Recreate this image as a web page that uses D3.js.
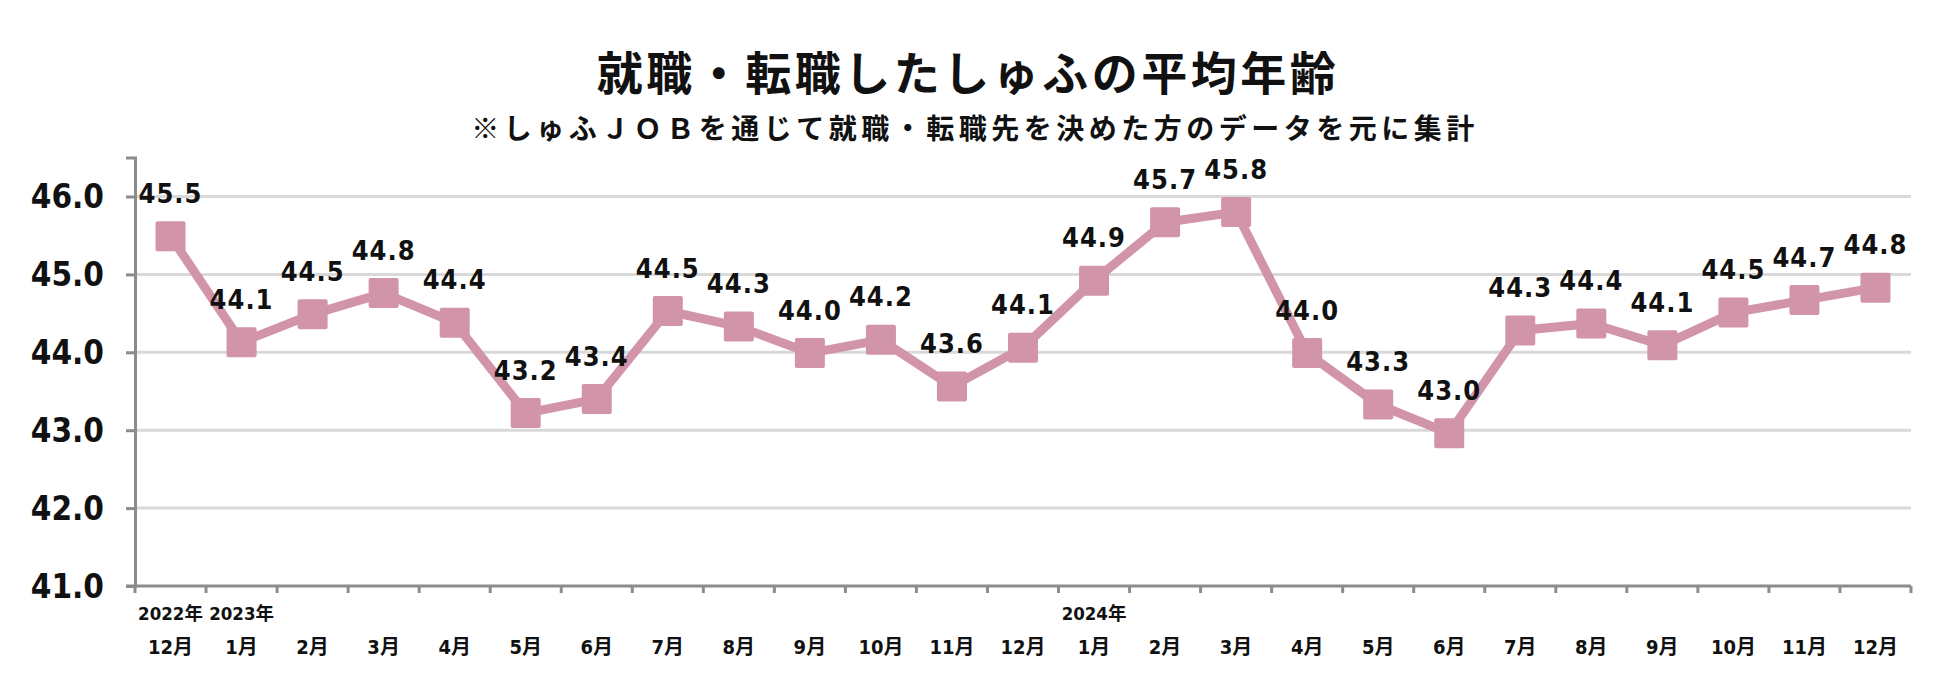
<!DOCTYPE html>
<html><head><meta charset="utf-8">
<script src="https://cdn.jsdelivr.net/npm/d3@7"></script>
<style>
html,body{margin:0;padding:0;background:#fff;}
svg{display:block;}
.num{font-family:"DejaVu Sans Condensed","DejaVu Sans","Noto Sans CJK JP",sans-serif;font-stretch:condensed;font-weight:bold;}
.jp{font-family:"Noto Sans CJK JP",sans-serif;font-weight:bold;}
</style></head>
<body>
<svg id="chart" width="1950" height="692"></svg>
<script>
const title = "就職・転職したしゅふの平均年齢";
const subtitle = "※しゅふＪＯＢを通じて就職・転職先を決めた方のデータを元に集計";
const months = ["12月","1月","2月","3月","4月","5月","6月","7月","8月","9月","10月","11月","12月",
                "1月","2月","3月","4月","5月","6月","7月","8月","9月","10月","11月","12月"];
const years = ["2022年","2023年","","","","","","","","","","","","2024年","","","","","","","","","","",""];
const avgAge = [45.49,44.13,44.49,44.76,44.38,43.22,43.40,44.53,44.33,43.99,44.16,43.56,44.06,
                44.92,45.67,45.80,43.99,43.33,42.96,44.28,44.37,44.09,44.51,44.67,44.83];
const yTicks = [41,42,43,44,45,46];

(function(){
const svg = d3.select("#chart");
const mLeft = 135, mRight = 1911, mBottom = 586;
const ids = months.map((m,i)=>i);
const x = d3.scaleBand().domain(ids).range([mLeft,mRight]).padding(0);
const y = d3.scaleLinear().domain([41,46.5]).range([mBottom, mBottom - 5.5*77.9]);
const pink = "#d194a9";

// title
svg.append("text").attr("class","jp").attr("x",968).attr("y",70)
  .attr("text-anchor","middle").attr("dominant-baseline","central")
  .attr("font-size",46).attr("letter-spacing","3.5px").attr("fill","#111").text(title);
svg.append("text").attr("class","jp").attr("x",975).attr("y",127)
  .attr("text-anchor","middle").attr("dominant-baseline","central")
  .attr("font-size",28).attr("letter-spacing","4.5px").attr("fill","#111").text(subtitle);

// gridlines
svg.append("g").selectAll("line").data(yTicks.filter(t=>t>41)).join("line")
  .attr("x1",mLeft).attr("x2",mRight).attr("y1",d=>y(d)).attr("y2",d=>y(d))
  .attr("stroke","#d9d9d9").attr("stroke-width",3);

// y axis
const yAxis = d3.axisLeft(y).tickValues(yTicks).tickFormat(d3.format(".1f")).tickSize(9).tickPadding(22);
const gy = svg.append("g").attr("transform",`translate(${mLeft},0)`).call(yAxis);
gy.select(".domain").attr("stroke","#8c8c8c").attr("stroke-width",3);
gy.selectAll(".tick line").attr("stroke","#8c8c8c").attr("stroke-width",3);
gy.selectAll(".tick text").attr("class","num").attr("font-size",33).attr("fill","#111")
  .attr("dy","0.34em");

// x axis
svg.append("line").attr("x1",mLeft-9).attr("x2",mRight).attr("y1",mBottom).attr("y2",mBottom)
  .attr("stroke","#8c8c8c").attr("stroke-width",3);
const bounds = ids.map(i=>x(i)).concat([mRight]);
svg.append("g").selectAll("line").data(bounds).join("line")
  .attr("x1",d=>d).attr("x2",d=>d).attr("y1",mBottom).attr("y2",mBottom+7)
  .attr("stroke","#8c8c8c").attr("stroke-width",3);

const cx = i => x(i) + x.bandwidth()/2;
svg.append("g").selectAll("text").data(ids).join("text").attr("class","num")
  .attr("x",cx).attr("y",613).attr("text-anchor","middle").attr("dominant-baseline","central")
  .attr("font-size",18.5).attr("fill","#111").text(i=>years[i]);
svg.append("g").selectAll("text").data(ids).join("text").attr("class","num")
  .attr("x",cx).attr("y",647).attr("text-anchor","middle").attr("dominant-baseline","central")
  .attr("font-size",20).attr("fill","#111").text(i=>months[i]);

// line
const line = d3.line().x(i=>cx(i)).y(i=>y(avgAge[i]));
svg.append("path").datum(ids).attr("d",line).attr("fill","none")
  .attr("stroke",pink).attr("stroke-width",9).attr("stroke-linejoin","round");
const ms = 30;
svg.append("g").selectAll("rect").data(ids).join("rect")
  .attr("x",i=>cx(i)-ms/2).attr("y",i=>y(avgAge[i])-ms/2).attr("width",ms).attr("height",ms)
  .attr("rx",2).attr("fill",pink);

// data labels
svg.append("g").selectAll("text").data(ids).join("text").attr("class","num")
  .attr("x",cx).attr("y",i=>y(avgAge[i])-43).attr("text-anchor","middle").attr("dominant-baseline","central")
  .attr("font-size",27).attr("letter-spacing","1px").attr("fill","#111").text(i=>avgAge[i].toFixed(1));
})();
</script>
</body></html>
